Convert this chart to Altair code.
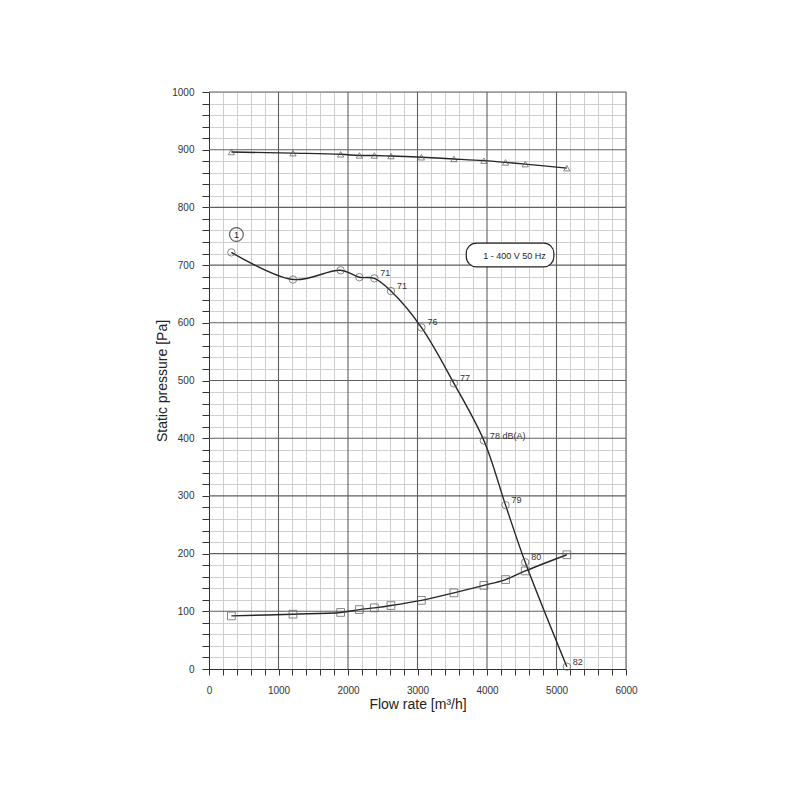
import altair as alt
import pandas as pd

# --- data ---
flow = [322, 1208, 1894, 2163, 2379, 2618, 3056, 3524, 3955, 4267, 4550, 5149]
pressure = [722, 675, 691, 679, 677, 655, 592, 495, 396, 284, 185, 4]
lower_curve = [92, 95, 98, 103, 106, 110, 119, 132, 145, 155, 170, 198]
upper_curve = [896, 894, 892, 890, 890, 889, 887, 884, 881, 878, 875, 868]
noise_labels = ["", "", "", "", "71", "71", "76", "77", "78 dB(A)", "79", "80", "82"]

tag_text = ["1"]
tag_flow = [394]
tag_value = [753]

box_text = ["1 - 400 V 50 Hz"]
box_flow = [3702]
box_flow2 = [4962]
box_value = [697]
box_value2 = [738]
box_text_flow = [4397]
box_text_value = [716]

x_ticks = list(range(0, 6001, 200))
y_ticks = list(range(0, 1001, 20))
x_major = list(range(1000, 6001, 1000))
y_major = list(range(100, 1001, 100))

FONT = "Liberation Sans"

df = pd.DataFrame({
    "flow": flow * 3,
    "value": pressure + lower_curve + upper_curve,
    "series": ["pressure"] * 12 + ["lower"] * 12 + ["upper"] * 12,
})
df_p = pd.DataFrame({"flow": flow, "value": pressure, "label": noise_labels})
df_l = pd.DataFrame({"flow": flow, "value": lower_curve})
df_u = pd.DataFrame({"flow": flow, "value": upper_curve})
df_tag = pd.DataFrame({"flow": tag_flow, "value": tag_value, "label": tag_text})
df_box = pd.DataFrame({"flow": box_flow, "flow2": box_flow2,
                       "value": box_value, "value2": box_value2})
df_box_t = pd.DataFrame({"flow": box_text_flow, "value": box_text_value, "label": box_text})
df_xm = pd.DataFrame({"flow": x_major})
df_ym = pd.DataFrame({"value": y_major})

X = alt.X(
    "flow:Q",
    scale=alt.Scale(domain=[0, 6000], nice=False, zero=False),
    axis=alt.Axis(
        values=x_ticks,
        format="d",
        labelExpr="datum.value % 1000 === 0 ? datum.label : ''",
        labelFlush=False,
        labelOverlap=False,
        gridColor={"condition": {"test": "datum.value % 1000 === 0", "value": "transparent"},
                   "value": "#cfcfcf"},
        gridWidth=1,
        tickSize=6,
        tickColor="#333",
        domainColor="#333",
        labelFontSize=10,
        labelPadding=10,
        labelColor="#333",
        title="Flow rate [m³/h]",
        titleFontSize=14,
        titleFontWeight="normal",
        titleColor="#222",
        titlePadding=2,
    ),
)
Y = alt.Y(
    "value:Q",
    scale=alt.Scale(domain=[0, 1000], nice=False, zero=False),
    axis=alt.Axis(
        values=y_ticks,
        format="d",
        labelExpr="datum.value % 100 === 0 ? datum.label : ''",
        labelFlush=False,
        labelOverlap=False,
        gridColor={"condition": {"test": "datum.value % 100 === 0", "value": "transparent"},
                   "value": "#cfcfcf"},
        gridWidth=1,
        tickSize=7,
        tickColor="#333",
        domainColor="#333",
        labelFontSize=10,
        labelPadding=8,
        labelColor="#333",
        title="Static pressure [Pa]",
        titleFontSize=14,
        titleFontWeight="normal",
        titleColor="#222",
        titlePadding=2,
    ),
)

grid_x = alt.Chart(df_xm).mark_rule(color="#5f5f5f", strokeWidth=1.1).encode(x=X)
grid_y = alt.Chart(df_ym).mark_rule(color="#5f5f5f", strokeWidth=1.1).encode(y=Y)

lines = alt.Chart(df).mark_line(
    interpolate="catmull-rom", color="#262626", strokeWidth=1.4
).encode(x=X, y=Y, detail="series:N")

pts_p = alt.Chart(df_p).mark_point(
    shape="circle", filled=False, color="#555", size=55, strokeWidth=1
).encode(x=X, y=Y)
pts_l = alt.Chart(df_l).mark_point(
    shape="square", filled=False, color="#555", size=60, strokeWidth=1
).encode(x=X, y=Y)
pts_u = alt.Chart(df_u).mark_point(
    shape="triangle-up", filled=False, color="#555", size=40, strokeWidth=1
).encode(x=X, y=Y)

labels = alt.Chart(df_p).mark_text(
    align="left", baseline="middle", dx=6, dy=-5, fontSize=9, font=FONT, color="#333"
).encode(x=X, y=Y, text="label:N")

tag_circle = alt.Chart(df_tag).mark_point(
    shape="circle", filled=False, color="#222", size=190, strokeWidth=1.2
).encode(x=X, y=Y)
tag_label = alt.Chart(df_tag).mark_text(
    align="center", baseline="middle", fontSize=9, font=FONT, color="#222"
).encode(x=X, y=Y, text="label:N")

box = alt.Chart(df_box).mark_rect(
    cornerRadius=10, fill="white", stroke="#222", strokeWidth=1.2
).encode(x=X, x2="flow2:Q", y=Y, y2="value2:Q")
box_label = alt.Chart(df_box_t).mark_text(
    align="center", baseline="middle", fontSize=9, font=FONT, color="#222"
).encode(x=X, y=Y, text="label:N")

chart = alt.layer(
    grid_x, grid_y, lines, pts_p, pts_l, pts_u, labels, tag_circle, tag_label, box, box_label
).properties(
    width=417,
    height=577,
    autosize=alt.AutoSizeParams(type="none"),
    padding={"left": 201, "top": 84, "right": 20, "bottom": 100},
).configure_view(
    stroke="#5a5a5a"
).configure_axis(
    labelFont=FONT, titleFont=FONT
).configure(background="white")

chart.save("out.html", embed_options={"renderer": "svg", "actions": False})
